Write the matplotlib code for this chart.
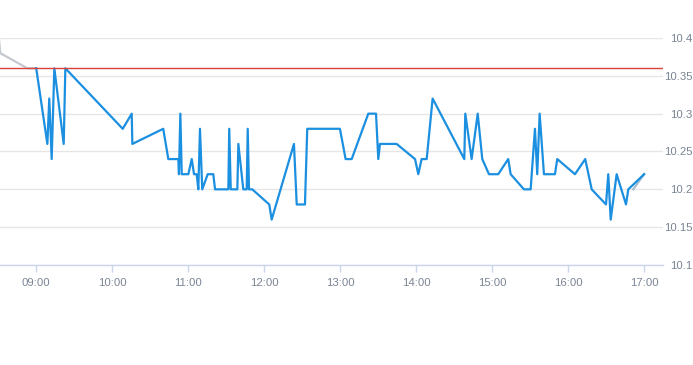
import matplotlib
matplotlib.use('Agg')
import matplotlib.pyplot as plt

# minutes after 09:00 and price
minutes = [0, 8.8, 10.3, 12.2, 14.3, 21.7, 23.0, 68.3, 75.4, 75.9,
           100.3, 104.3, 112.2, 112.7, 113.8, 114.9, 120.1, 122.8, 124.6, 126.7,
           128.0, 129.3, 131.1, 135.4, 139.8, 141.2, 151.7, 152.4, 153.6, 158.8,
           159.6, 163.5, 166.2, 167.0, 168.0, 170.6, 184.0, 185.9, 203.5, 205.7,
           212.2, 214.0, 239.8, 244.3, 249.1, 262.2, 268.3, 270.1, 271.4, 284.6,
           299.1, 301.7, 304.3, 308.3, 313.0, 338.0, 338.8, 343.8, 348.6, 352.2,
           357.5, 364.8, 372.7, 374.6, 385.1, 390.4, 393.8, 395.6, 397.5, 400.9,
           409.6, 411.4, 425.4, 433.5, 438.6, 449.9, 451.7, 453.6, 458.3, 465.7,
           467.5, 480]
price = [10.36, 10.26, 10.32, 10.24, 10.36, 10.26, 10.36, 10.28, 10.30, 10.26,
         10.28, 10.24, 10.24, 10.22, 10.30, 10.22, 10.22, 10.24, 10.22, 10.22,
         10.20, 10.28, 10.20, 10.22, 10.22, 10.20, 10.20, 10.28, 10.20, 10.20,
         10.26, 10.20, 10.20, 10.28, 10.20, 10.20, 10.18, 10.16, 10.26, 10.18,
         10.18, 10.28, 10.28, 10.24, 10.24, 10.30, 10.30, 10.24, 10.26, 10.26,
         10.24, 10.22, 10.24, 10.24, 10.32, 10.24, 10.30, 10.24, 10.30, 10.24,
         10.22, 10.22, 10.24, 10.22, 10.20, 10.20, 10.28, 10.22, 10.30, 10.22,
         10.22, 10.24, 10.22, 10.24, 10.20, 10.18, 10.22, 10.16, 10.22, 10.18,
         10.20, 10.22]

# extended hours (grey)
pre_minutes = [-29.5, -28.4, -7.0, 0]
pre_price = [10.40, 10.38, 10.36, 10.36]
post_minutes = [471.4, 480]
post_price = [10.20, 10.22]

prev_close = 10.36

tick_minutes = [0, 60, 120, 180, 240, 300, 360, 420, 480]
tick_labels = ['09:00', '10:00', '11:00', '12:00', '13:00', '14:00', '15:00', '16:00', '17:00']
y_ticks = [10.1, 10.15, 10.2, 10.25, 10.3, 10.35, 10.4]
y_labels = ['10.1', '10.15', '10.2', '10.25', '10.3', '10.35', '10.4']

plt.rcParams['font.family'] = ['Liberation Sans', 'DejaVu Sans']
fig = plt.figure(figsize=(6.93, 3.65), dpi=100)
ax = fig.add_axes([0, 1 - 265/365, 663/693, (265-38)/365])

ax.plot(pre_minutes, pre_price, color='#c4c9d0', lw=1.6, zorder=2)
ax.plot(post_minutes, post_price, color='#a9bdd3', lw=1.6, zorder=2)
ax.plot(minutes, price, color='#1b8fe0', lw=1.6, zorder=3)
ax.axhline(prev_close, color='#d9413a', lw=1.0, zorder=4)

ax.set_xlim(-28.6, 494.9)
ax.set_ylim(10.1, 10.4)
ax.set_xticks(tick_minutes)
ax.set_xticklabels(tick_labels)
ax.set_yticks(y_ticks)
ax.set_yticklabels(y_labels, ha='right')
ax.yaxis.tick_right()
ax.grid(axis='y', color='#e6e6e6', lw=1)
ax.set_axisbelow(True)
for s in ['top', 'left', 'right']:
    ax.spines[s].set_visible(False)
ax.spines['bottom'].set_color('#ccd6eb')
ax.spines['bottom'].set_linewidth(1)
ax.tick_params(axis='x', colors='#ccd6eb', length=5, width=1, labelcolor='#7a8594', labelsize=8.2, pad=4)
# right labels are right aligned near the figure edge
ax.tick_params(axis='y', length=0, labelcolor='#7a8594', labelsize=8.2, pad=21)

fig.savefig('out.png', dpi=100)
